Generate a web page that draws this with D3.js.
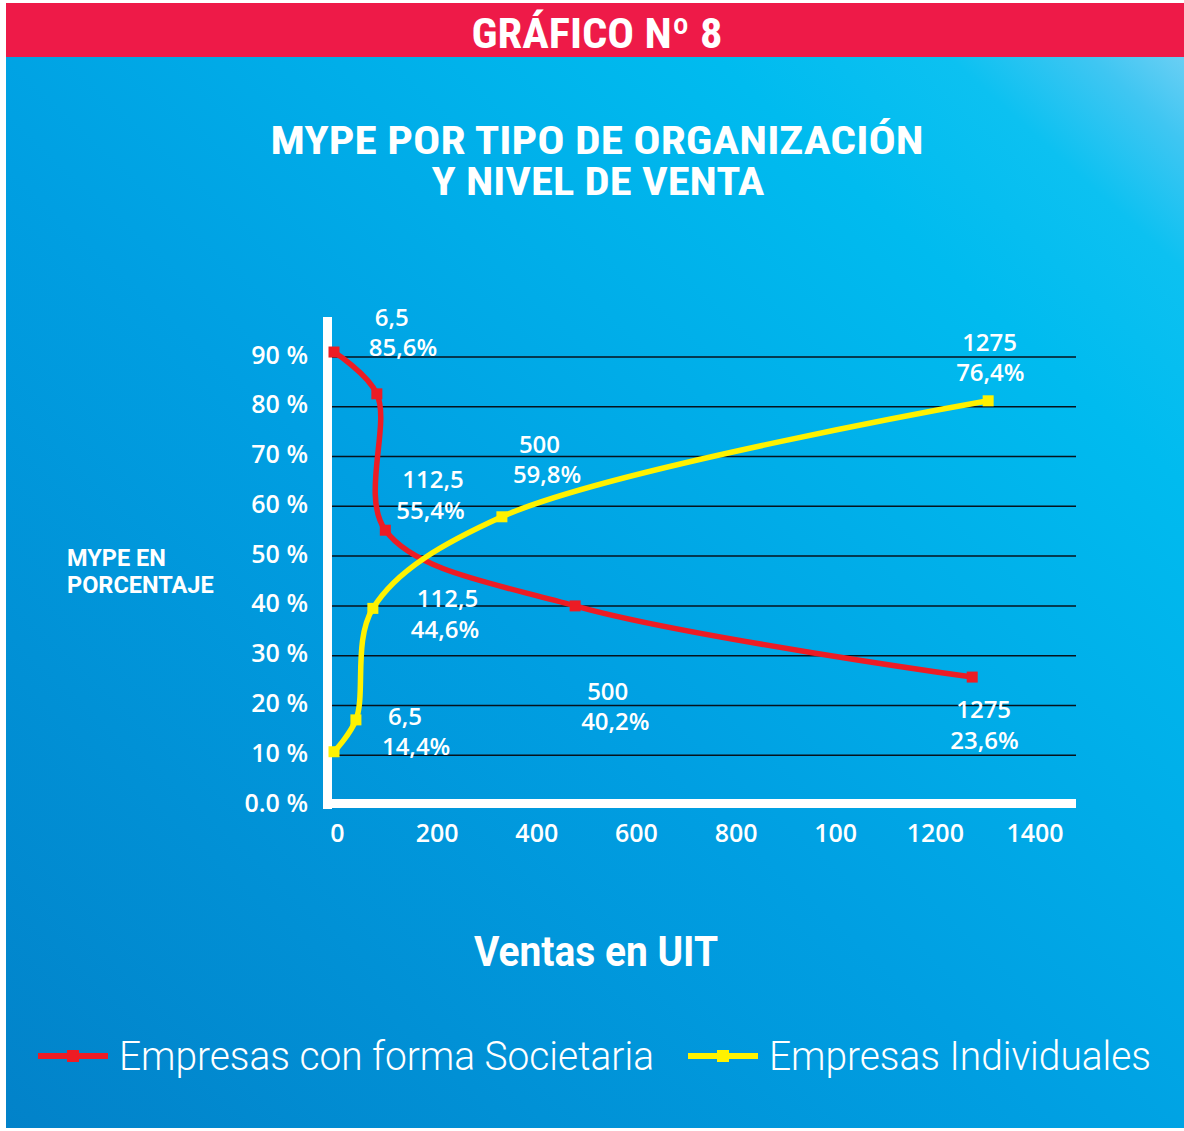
<!DOCTYPE html>
<html>
<head>
<meta charset="utf-8">
<script src="https://cdn.jsdelivr.net/npm/d3@7"></script>
<style>
  body { margin: 0; background: #fff; }
  svg text { fill: #fff; }
</style>
</head>
<body>
<svg id="chart" width="1184" height="1131"></svg>
<script>
// ---- data ----
var seriesNames  = ["Empresas con forma Societaria", "Empresas Individuales"];
var seriesColors = ["#ed1c24", "#fff200"];

// where each point sits on the chart axes (x: ventas en UIT, y: %)
var societariaX   = [0, 86, 103, 484, 1281];
var societariaY   = [91.0, 82.6, 55.2, 40.0, 25.7];
var societariaUIT = ["", "6,5", "112,5", "500", "1275"];
var societariaPct = ["", "85,6%", "55,4%", "40,2%", "23,6%"];

var individualX   = [0, 44, 78, 337, 1313];
var individualY   = [10.7, 17.1, 39.5, 57.9, 81.2];
var individualUIT = ["", "6,5", "112,5", "500", "1275"];
var individualPct = ["", "14,4%", "44,6%", "59,8%", "76,4%"];

var yTickValues = [0, 10, 20, 30, 40, 50, 60, 70, 80, 90];
var yTickLabels = ["0.0 %", "10 %", "20 %", "30 %", "40 %", "50 %", "60 %", "70 %", "80 %", "90 %"];
var xTickValues = [0, 200, 400, 600, 800, 1000, 1200, 1400];
var xTickLabels = ["0", "200", "400", "600", "800", "100", "1200", "1400"];

// label placement relative to each point (layout only)
var societariaLabelOffset = [null, [-8, -68], [11, -42], [6, 94], [-22, 41]];
var individualLabelOffset = [null, [26, 5], [38, -1], [11, -64], [-32, -50]];

var svg = d3.select("#chart");
var W = 1184, H = 1131;
var plotRight = 1076;
var numFont = "'Open Sans', 'DejaVu Sans', sans-serif";
var narrowFont = "'Liberation Sans Narrow', 'Roboto Condensed', 'Liberation Sans', Arial, sans-serif";

// background gradient
var defs = svg.append("defs");
var grad = defs.append("linearGradient").attr("id", "bg")
  .attr("x1", 0).attr("y1", 1).attr("x2", 1).attr("y2", 0);
[[0, "#0282c9"], [0.45, "#009fe2"], [0.8, "#00bbef"], [0.9, "#0cc1f1"],
 [0.96, "#3fc6f2"], [1, "#6acff4"]].forEach(function(s){
  grad.append("stop").attr("offset", s[0]).attr("stop-color", s[1]);
});

svg.append("rect").attr("x", 6).attr("y", 57).attr("width", W - 6).attr("height", 1071)
  .attr("fill", "url(#bg)");
svg.append("rect").attr("x", 6).attr("y", 3).attr("width", W - 6).attr("height", 54)
  .attr("fill", "#ee1a48");

// titles
svg.append("text").attr("x", 597).attr("y", 48).attr("text-anchor", "middle")
  .style("font-family", narrowFont).style("font-weight", 700).style("font-size", "42px")
  .attr("textLength", 251).attr("lengthAdjust", "spacingAndGlyphs")
  .text("GRÁFICO Nº 8");

svg.append("text").attr("x", 597).attr("y", 154).attr("text-anchor", "middle")
  .style("font-family", narrowFont).style("font-weight", 700).style("font-size", "38px")
  .attr("textLength", 653).attr("lengthAdjust", "spacingAndGlyphs")
  .text("MYPE POR TIPO DE ORGANIZACIÓN");
svg.append("text").attr("x", 598).attr("y", 195).attr("text-anchor", "middle")
  .style("font-family", narrowFont).style("font-weight", 700).style("font-size", "38px")
  .attr("textLength", 333).attr("lengthAdjust", "spacingAndGlyphs")
  .text("Y NIVEL DE VENTA");

// scales
var x = d3.scaleLinear().domain([0, 1400]).range([334, 1031.5]);
var y = d3.scaleLinear().domain([0, 90]).range([805, 357]);

// gridlines
svg.append("g").selectAll("line")
  .data(yTickValues.filter(function(d){ return d > 0; }))
  .join("line")
  .attr("x1", x(0) - 4).attr("x2", plotRight)
  .attr("y1", function(d){ return y(d); }).attr("y2", function(d){ return y(d); })
  .attr("stroke", "#06121c").attr("stroke-width", 1.5);

// axis lines
svg.append("line").attr("x1", x(0) - 6.5).attr("x2", x(0) - 6.5)
  .attr("y1", 317).attr("y2", y(0) + 4)
  .attr("stroke", "#fff").attr("stroke-width", 9);
svg.append("line").attr("x1", x(0) - 11).attr("x2", plotRight)
  .attr("y1", y(0) - 1.5).attr("y2", y(0) - 1.5)
  .attr("stroke", "#fff").attr("stroke-width", 9);

// tick labels
var yAxis = d3.axisLeft(y).tickValues(yTickValues)
  .tickFormat(function(d, i){ return yTickLabels[i]; })
  .tickSize(0).tickPadding(0);
var gy = svg.append("g").attr("transform", "translate(308,-3)").call(yAxis);
gy.select(".domain").remove();
gy.selectAll("text").attr("fill", "#fff").attr("dy", "0.36em")
  .style("font-family", numFont).style("font-weight", 600).style("font-size", "25px");

var xAxis = d3.axisBottom(x).tickValues(xTickValues)
  .tickFormat(function(d, i){ return xTickLabels[i]; })
  .tickSize(0).tickPadding(0);
var gx = svg.append("g").attr("transform", "translate(3,824)").call(xAxis);
gx.select(".domain").remove();
gx.selectAll("text").attr("fill", "#fff").attr("dy", "0.72em")
  .style("font-family", numFont).style("font-weight", 600).style("font-size", "25px");

// axis titles
var yTitle = svg.append("text").attr("x", 67).attr("y", 566)
  .style("font-family", "Roboto, 'Liberation Sans', sans-serif")
  .style("font-weight", 700).style("font-size", "23.5px");
yTitle.append("tspan").attr("x", 67).text("MYPE EN");
yTitle.append("tspan").attr("x", 67).attr("y", 593).text("PORCENTAJE");

svg.append("text").attr("x", 596).attr("y", 966).attr("text-anchor", "middle")
  .style("font-family", "Roboto, 'Liberation Sans', sans-serif")
  .style("font-weight", 700).style("font-size", "43px")
  .attr("textLength", 244).attr("lengthAdjust", "spacingAndGlyphs")
  .text("Ventas en UIT");

// series
var series = [
  {xs: societariaX, ys: societariaY, uit: societariaUIT, pct: societariaPct, off: societariaLabelOffset},
  {xs: individualX, ys: individualY, uit: individualUIT, pct: individualPct, off: individualLabelOffset}
];

var line = d3.line()
  .x(function(d){ return x(d[0]); })
  .y(function(d){ return y(d[1]); })
  .curve(d3.curveCatmullRom.alpha(0.5));

var mk = 11;
series.forEach(function(s, si){
  var pts = s.xs.map(function(v, i){ return [v, s.ys[i]]; });
  svg.append("path").datum(pts)
    .attr("d", line).attr("fill", "none")
    .attr("stroke", seriesColors[si]).attr("stroke-width", 5.5)
    .attr("stroke-linejoin", "round");
  svg.append("g").selectAll("rect").data(pts).join("rect")
    .attr("x", function(d){ return x(d[0]) - mk / 2; })
    .attr("y", function(d){ return y(d[1]) - mk / 2; })
    .attr("width", mk).attr("height", mk)
    .attr("fill", seriesColors[si]);

  pts.forEach(function(d, i){
    if (!s.uit[i]) return;
    var lx = x(d[0]) + s.off[i][0];
    var ly = y(d[1]) + s.off[i][1];
    var t = svg.append("text")
      .style("font-family", numFont).style("font-weight", 600).style("font-size", "24px");
    t.append("tspan").attr("x", lx + 6).attr("y", ly).text(s.uit[i]);
    t.append("tspan").attr("x", lx).attr("y", ly + 30.5).text(s.pct[i]);
  });
});

// legend
var legendX = [38, 688];
var legendTextLen = [535, 382];
seriesNames.forEach(function(name, i){
  var g = svg.append("g").attr("transform", "translate(" + legendX[i] + ",1056)");
  g.append("line").attr("x1", 0).attr("x2", 70).attr("y1", 0).attr("y2", 0)
    .attr("stroke", seriesColors[i]).attr("stroke-width", 6);
  g.append("rect").attr("x", 29).attr("y", -6).attr("width", 12).attr("height", 12)
    .attr("fill", seriesColors[i]);
  g.append("text").attr("x", 81).attr("y", 14)
    .style("font-family", "Roboto, 'Liberation Sans', sans-serif")
    .style("font-weight", 300).style("font-size", "41px")
    .attr("textLength", legendTextLen[i]).attr("lengthAdjust", "spacingAndGlyphs")
    .text(name);
});
</script>
</body>
</html>
